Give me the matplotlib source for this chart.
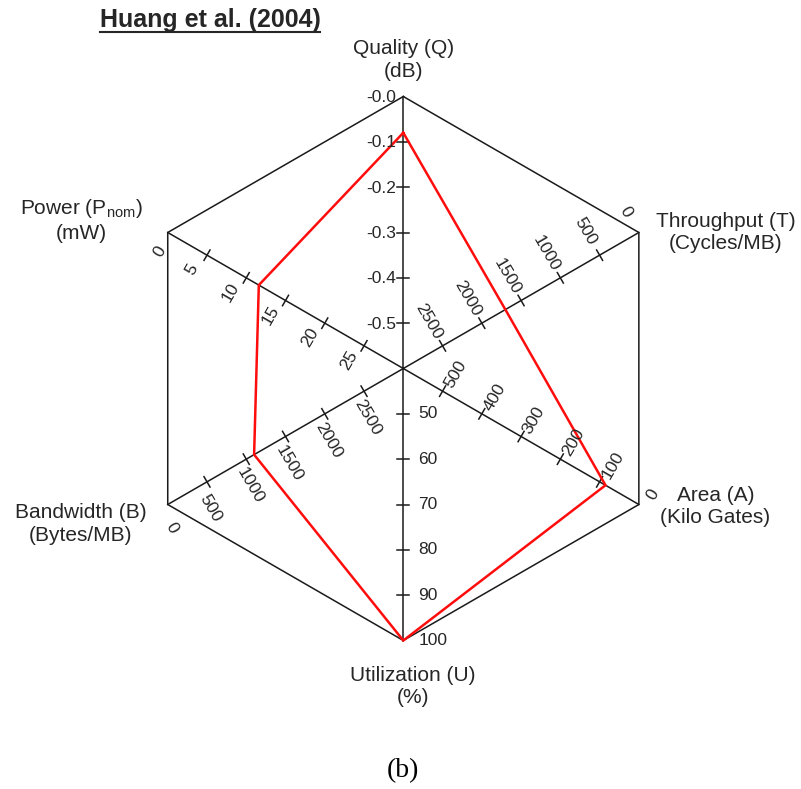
import matplotlib
matplotlib.use("Agg")
import matplotlib.pyplot as plt
import numpy as np
from matplotlib.lines import Line2D

plt.rcParams['font.family'] = ['Liberation Sans', 'DejaVu Sans']
plt.rcParams['mathtext.fontset'] = 'custom'
plt.rcParams['mathtext.rm'] = 'Liberation Sans'
plt.rcParams['mathtext.it'] = 'Liberation Sans:italic'

#=============== DADOS ===============#
eixos_nomes = ["Quality (Q)\n(dB)", "Throughput (T)\n(Cycles/MB)", "Area (A)\n(Kilo Gates)",
               "Utilization (U)\n(%)", "Bandwidth (B)\n(Bytes/MB)", "Power (P$_{\\mathrm{nom}}$)\n(mW)"]
eixos_angulos = [90, 30, -30, -90, 210, 150]
eixos_centro = [-0.6, 3000, 600, 40, 3000, 30]   # valor no centro do hexagono
eixos_borda = [0.0, 0, 0, 100, 0, 0]             # valor no vertice

ticks_quality = [0.0, -0.1, -0.2, -0.3, -0.4, -0.5]
labels_quality = ["-0.0", "-0.1", "-0.2", "-0.3", "-0.4", "-0.5"]
ticks_throughput = [0, 500, 1000, 1500, 2000, 2500]
ticks_area = [0, 100, 200, 300, 400, 500]
ticks_utilization = [50, 60, 70, 80, 90, 100]
ticks_bandwidth = [0, 500, 1000, 1500, 2000, 2500]
ticks_power = [0, 5, 10, 15, 20, 25]

huang_valores = [-0.08, 1700, 85, 100, 1100, 11.6]

titulo = "Huang et al. (2004)"
legenda = "(b)"

#=============== GEOMETRIA ===============#
L, A = 801, 789
cx, cy, R = 403.3, 368.5, 272.0   # centro e raio em pixels
px = 1.0 / R                      # 1 pixel em unidades de dados

def ponto(i, valor):
    r = (valor - eixos_centro[i]) / (eixos_borda[i] - eixos_centro[i])
    ang = np.radians(eixos_angulos[i])
    return r * np.cos(ang), r * np.sin(ang)

fig = plt.figure(figsize=(L / 100, A / 100), dpi=100)
ax = fig.add_axes([0, 0, 1, 1])
ax.set_xlim(-cx / R, (L - cx) / R)
ax.set_ylim(-(A - cy) / R, cy / R)
ax.axis('off')

cor_linha = '#1a1a1a'
cor_texto = '#262626'
lw_preto = 1.1

# hexagono externo + eixos
vert = [ponto(i, eixos_borda[i]) for i in range(6)]
hx = [v[0] for v in vert] + [vert[0][0]]
hy = [v[1] for v in vert] + [vert[0][1]]
ax.plot(hx, hy, color=cor_linha, lw=lw_preto)
for v in vert:
    ax.plot([0, v[0]], [0, v[1]], color=cor_linha, lw=lw_preto)

# ticks e rotulos de cada eixo
# (indice, valores, rotacao, dist perpendicular, desloc. ao longo do eixo, idem p/ o zero)
config_ticks = [
    (1, ticks_throughput, -60, 28, 0, (24, -1)),
    (2, ticks_area, 60, 21, 3, (15, 7)),
    (4, ticks_bandwidth, -60, 25, 10, (22, 8)),
    (5, ticks_power, 60, 20, 6, (20, -3)),
]

def desenha_tick(i, valor):
    x, y = ponto(i, valor)
    ang = np.radians(eixos_angulos[i])
    p = np.array([-np.sin(ang), np.cos(ang)])
    if x ** 2 + y ** 2 < 0.998:
        h = 6 * px
        ax.plot([x - h * p[0], x + h * p[0]], [y - h * p[1], y + h * p[1]], color=cor_linha, lw=lw_preto)
    return x, y, p, ang

for i, valores, rot, dist, desloc, zero in config_ticks:
    for valor in valores:
        x, y, p, ang = desenha_tick(i, valor)
        u = np.array([np.cos(ang), np.sin(ang)])
        d, s = (zero if valor == eixos_borda[i] else (dist, desloc))
        tx = x + d * px * p[0] + s * px * u[0]
        ty = y + d * px * p[1] + s * px * u[1]
        ax.text(tx, ty, str(valor), rotation=rot, rotation_mode='anchor', ha='center', va='center',
                fontsize=12.5, color=cor_texto)

for valor, rotulo in zip(ticks_quality, labels_quality):
    x, y, p, ang = desenha_tick(0, valor)
    ax.text(x - 7 * px, y - 1 * px, rotulo, ha='right', va='center', fontsize=12.5, color=cor_texto)

for valor in ticks_utilization:
    x, y, p, ang = desenha_tick(3, valor)
    ax.text(x + 15 * px, y, str(valor), ha='left', va='center', fontsize=12.5, color=cor_texto)

# nomes dos eixos (deslocamento em pixels a partir do vertice)
desloc_nomes = [(0, 36.7), (86.7, 0), (76.5, -2), (9.7, -46), (-86.9, -19.3), (-86.5, 12.5)]
for i in range(6):
    vx, vy = vert[i]
    dx, dy = desloc_nomes[i]
    ax.text(vx + dx * px, vy + dy * px, eixos_nomes[i], ha='center', va='center',
            multialignment='center', fontsize=15, color=cor_texto, linespacing=1.25)

# poligono do Huang et al.
pts = [ponto(i, huang_valores[i]) for i in range(6)]
px_h = [p_[0] for p_ in pts] + [pts[0][0]]
py_h = [p_[1] for p_ in pts] + [pts[0][1]]
ax.plot(px_h, py_h, color='#ff0d0d', lw=1.8, solid_joinstyle='miter')

# titulo sublinhado
t = fig.text(210 / L, 1 - 20 / A, titulo, ha='center', va='center', fontsize=18,
             fontweight='bold', color=cor_texto)
fig.canvas.draw()
bb = t.get_window_extent()
fig.add_artist(Line2D([bb.x0 / L, bb.x1 / L], [1 - 32 / A, 1 - 32 / A], transform=fig.transFigure,
                      color=cor_texto, lw=1.5))

fig.text(403 / L, 1 - 771 / A, legenda, ha='center', va='center', fontsize=20,
         family='Liberation Serif', color='black')

fig.savefig("out.png", dpi=100, facecolor='white')
